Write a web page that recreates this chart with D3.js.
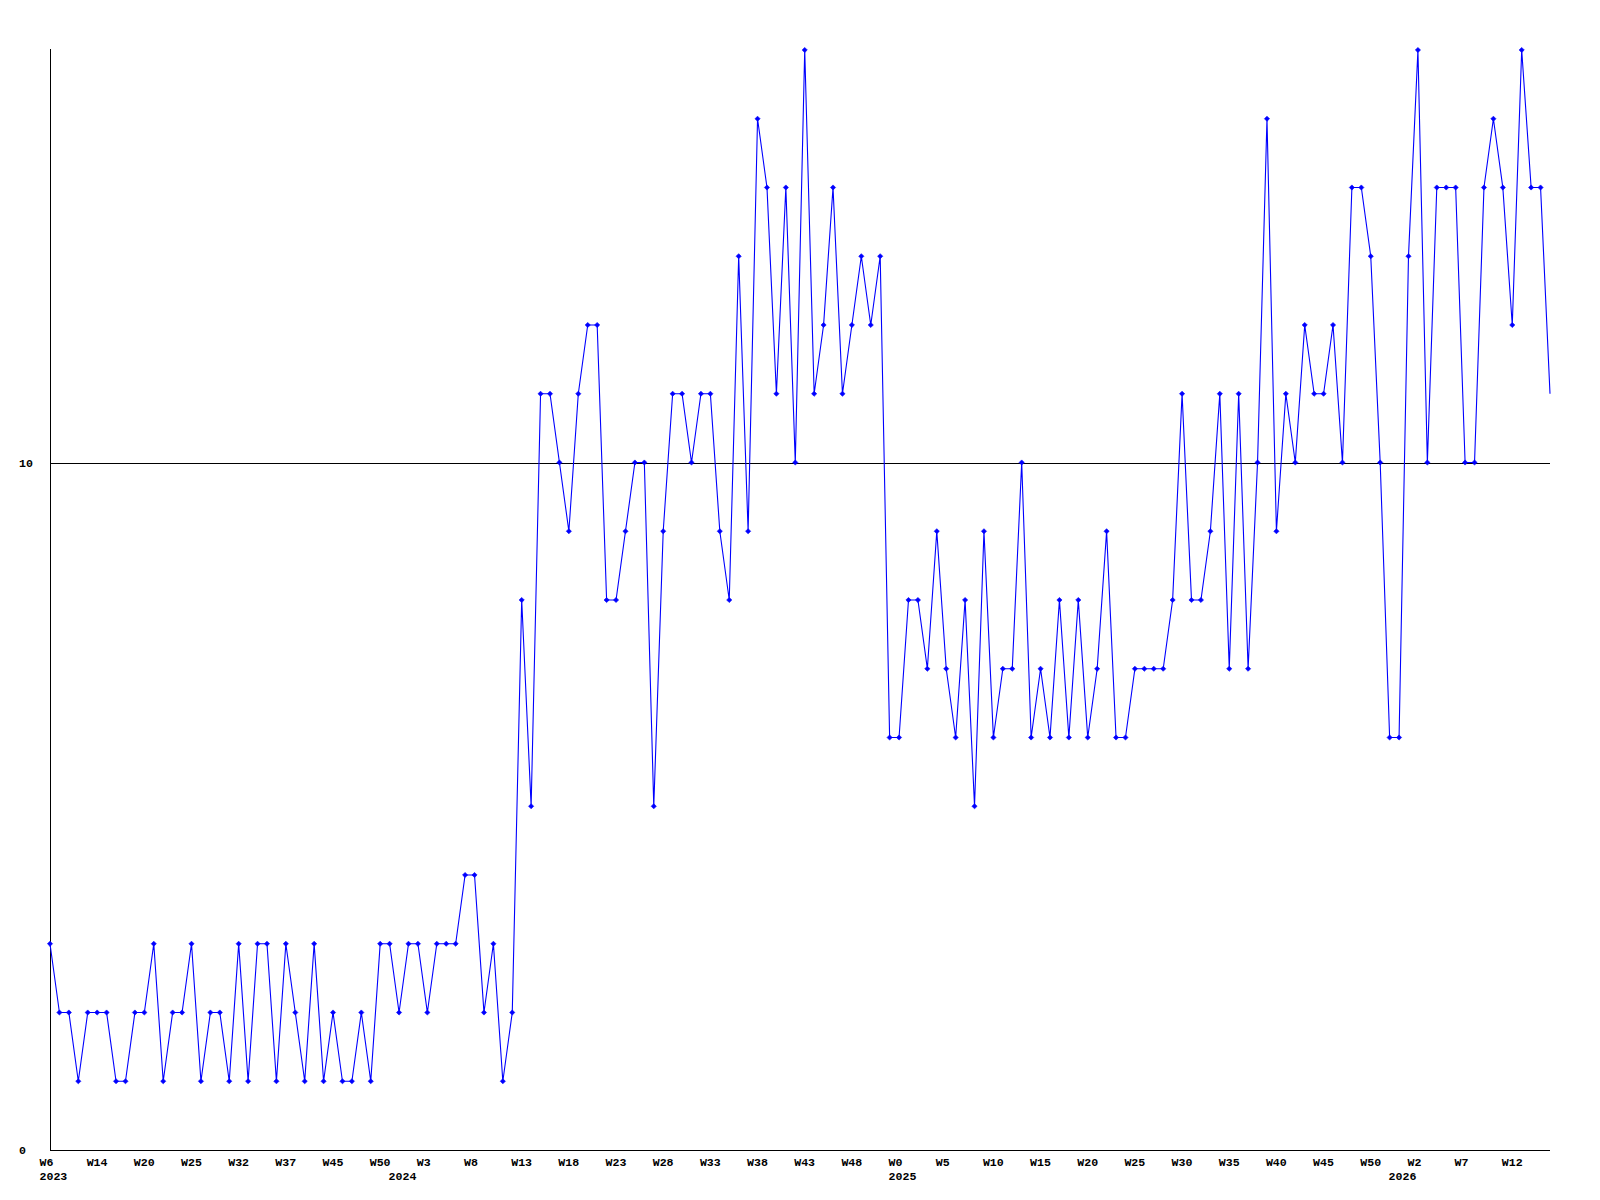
<!DOCTYPE html>
<html>
<head>
<meta charset="utf-8">
<script src="https://cdn.jsdelivr.net/npm/d3@7"></script>
<style>
  html, body { margin: 0; padding: 0; background: #ffffff; }
  svg { display: block; }
  text { font-family: "Liberation Mono", "DejaVu Sans Mono", monospace; font-weight: bold; font-size: 11.6px; fill: #000; }
</style>
</head>
<body>
<div id="chart"></div>
<script>
// Weekly values, one per point (index 0 .. 159)
const values = [
  3,2,2,1,2,2,2,1,1,2,
  2,3,1,2,2,3,1,2,2,1,
  3,1,3,3,1,3,2,1,3,1,
  2,1,1,2,1,3,3,2,3,3,
  2,3,3,3,4,4,2,3,1,2,
  8,5,11,11,10,9,11,12,12,8,
  8,9,10,10,5,9,11,11,10,11,
  11,9,8,13,9,15,14,11,14,10,
  16,11,12,14,11,12,13,12,13,6,
  6,8,8,7,9,7,6,8,5,9,
  6,7,7,10,6,7,6,8,6,8,
  6,7,9,6,6,7,7,7,7,8,
  11,8,8,9,11,7,11,7,10,15,
  9,11,10,12,11,11,12,10,14,14,
  13,10,6,6,13,16,10,14,14,14,
  10,10,14,15,14,12,16,14,14,11
];

// Week tick labels, shown at every 5th point
const weekLabels = ["W6","W14","W20","W25","W32","W37","W45","W50","W3","W8",
  "W13","W18","W23","W28","W33","W38","W43","W48","W0","W5",
  "W10","W15","W20","W25","W30","W35","W40","W45","W50","W2",
  "W7","W12"];
const weekLabelStep = 5;

// Year labels and the point index where each year starts
const yearLabels = ["2023","2024","2025","2026"];
const yearIndex = [0, 37, 90, 143];

// Y tick values
const yTicks = [0, 10];
const yMax = 16;

(function () {
  const W = 1600, H = 1200;
  const mLeft = 50, mRight = 1550, mTop = 50, mBottom = 1150;

  const svg = d3.select("#chart").append("svg")
    .attr("width", W).attr("height", H)
    .attr("viewBox", `0 0 ${W} ${H}`);

  svg.append("rect").attr("width", W).attr("height", H).attr("fill", "#fff");

  const x = d3.scaleLinear().domain([0, values.length - 1]).range([mLeft, mRight]);
  const y = d3.scaleLinear().domain([0, yMax]).range([mBottom, mTop]);

  // Horizontal reference line at 10
  svg.append("g").selectAll("line")
    .data(yTicks.filter(t => t !== 0))
    .join("line")
    .attr("x1", mLeft).attr("x2", mRight)
    .attr("y1", d => Math.round(y(d)) + 0.5).attr("y2", d => Math.round(y(d)) + 0.5)
    .attr("stroke", "#000").attr("stroke-width", 1)
    .attr("shape-rendering", "crispEdges");

  // Axis lines
  svg.append("line")
    .attr("x1", mLeft + 0.5).attr("x2", mLeft + 0.5)
    .attr("y1", mTop - 1).attr("y2", mBottom)
    .attr("stroke", "#000").attr("shape-rendering", "crispEdges");
  svg.append("line")
    .attr("x1", mLeft).attr("x2", mRight)
    .attr("y1", mBottom + 0.5).attr("y2", mBottom + 0.5)
    .attr("stroke", "#000").attr("shape-rendering", "crispEdges");

  // Y tick labels
  svg.append("g").selectAll("text")
    .data(yTicks)
    .join("text")
    .attr("x", 19)
    .attr("y", d => y(d))
    .attr("dy", "0.35em")
    .attr("text-anchor", "start")
    .text(d => d);

  // Week labels
  svg.append("g").selectAll("text")
    .data(weekLabels)
    .join("text")
    .attr("x", (d, i) => x(i * weekLabelStep) - 10.5)
    .attr("y", 1166)
    .attr("text-anchor", "start")
    .text(d => d);

  // Year labels
  svg.append("g").selectAll("text")
    .data(yearLabels)
    .join("text")
    .attr("x", (d, i) => x(yearIndex[i]) - 10.5)
    .attr("y", 1180)
    .attr("text-anchor", "start")
    .text(d => d);

  // Data line
  const line = d3.line()
    .x((d, i) => x(i))
    .y(d => y(d));

  svg.append("path")
    .datum(values)
    .attr("d", line)
    .attr("fill", "none")
    .attr("stroke", "#0000ff")
    .attr("stroke-width", 1.1);

  // Markers (small diamonds)
  const r = 2.6;
  svg.append("g").selectAll("path")
    .data(values.slice(0, values.length - 1))
    .join("path")
    .attr("d", (d, i) => {
      const cx = x(i), cy = y(d);
      return `M${cx},${cy - r}L${cx + r},${cy}L${cx},${cy + r}L${cx - r},${cy}Z`;
    })
    .attr("fill", "#0000ff")
    .attr("stroke", "#0000ff")
    .attr("stroke-width", 0.6);
})();
</script>
</body>
</html>
